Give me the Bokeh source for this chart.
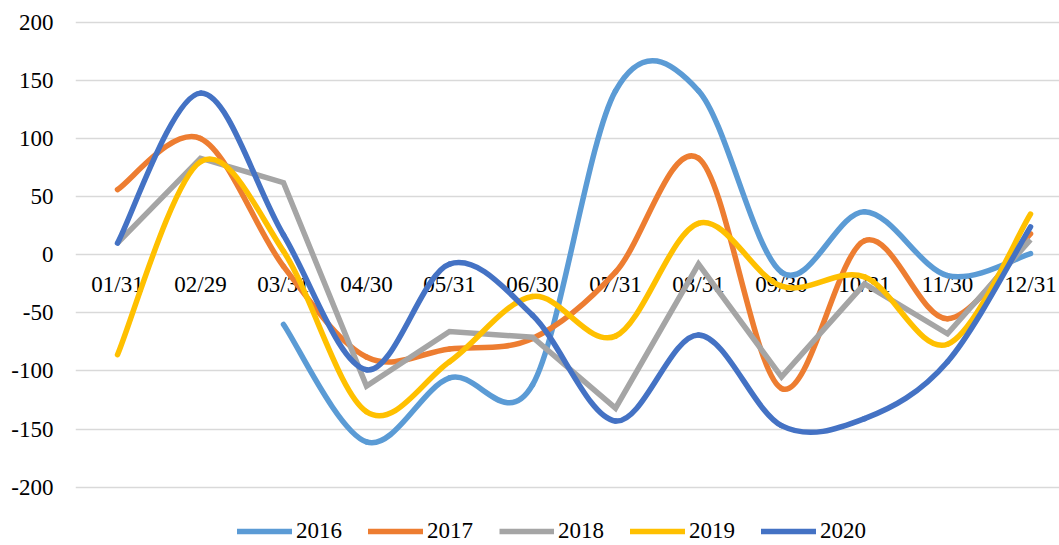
from bokeh.plotting import figure
from bokeh.models import (Range1d, FixedTicker, Legend, LegendItem, ColumnDataSource)
from bokeh.core.properties import value
from bokeh.embed import file_html
from bokeh.resources import INLINE

dates = ["01/31", "02/29", "03/31", "04/30", "05/31", "06/30",
         "07/31", "08/31", "09/30", "10/31", "11/30", "12/31"]

s2016 = [None, None, -60, -161, -106, -112, 141, 141, -15, 37, -18, 1]
s2017 = [56, 100, -10, -88, -81, -72, -15, 83, -115, 12, -55, 18]
s2018 = [10, 83, 62, -113, -66, -71, -132, -8, -105, -25, -68, 13]
s2019 = [-86, 80, 3, -135, -92, -36, -70, 27, -27, -19, -77, 35]
s2020 = [10, 139, 17, -99, -8, -52, -143, -69, -147, -141, -92, 24]

years = ["2016", "2017", "2018", "2019", "2020"]
colors = ["#5B9BD5", "#ED7D31", "#A5A5A5", "#FFC000", "#4472C4"]
smooth = [True, True, False, True, True]
series = [s2016, s2017, s2018, s2019, s2020]
y_ticks = [-200, -150, -100, -50, 0, 50, 100, 150, 200]
y_tick_labels = ["-200", "-150", "-100", "-50", "0", "50", "100", "150", "200"]

FONT = "'Liberation Serif', 'Times New Roman', serif"

p = figure(width=1059, height=545, output_backend="svg", toolbar_location=None,
           x_range=Range1d(-0.506, 11.349), y_range=Range1d(-250.1, 218.67),
           min_border_left=75, min_border_right=0, min_border_top=0, min_border_bottom=0)
p.outline_line_color = None
p.background_fill_color = "white"
p.border_fill_color = "white"
p.xaxis.visible = False
p.xgrid.visible = False

p.yaxis.ticker = FixedTicker(ticks=y_ticks)
p.yaxis.major_label_overrides = {t: s for t, s in zip(y_ticks, y_tick_labels)}
p.yaxis.axis_line_color = None
p.yaxis.major_tick_line_color = None
p.yaxis.minor_tick_line_color = None
p.yaxis.major_tick_out = 0
p.yaxis.major_tick_in = 0
p.yaxis.major_label_standoff = 22
p.yaxis.major_label_text_font = FONT
p.yaxis.major_label_text_font_size = "23px"
p.yaxis.major_label_text_color = "#000000"
p.ygrid.ticker = FixedTicker(ticks=y_ticks)
p.ygrid.grid_line_color = "#D9D9D9"
p.ygrid.grid_line_width = 1.4

# category labels sitting under the zero line
lab_src = ColumnDataSource(dict(x=list(range(len(dates))), y=[0] * len(dates), t=dates))
p.text(x="x", y="y", text="t", source=lab_src, y_offset=30,
       text_align="center", text_baseline="middle",
       text_font=value(FONT), text_font_size="23px", text_color="#000000")

items = []
for yr, col, sm, data in zip(years, colors, smooth, series):
    pts = [(i, v) for i, v in enumerate(data) if v is not None]
    if sm:
        x0, y0, x1, y1, cx0, cy0, cx1, cy1 = [], [], [], [], [], [], [], []
        n = len(pts)
        for i in range(n - 1):
            pa = pts[i - 1] if i > 0 else pts[i]
            pb = pts[i]
            pc = pts[i + 1]
            pd = pts[i + 2] if i + 2 < n else pts[i + 1]
            x0.append(pb[0]); y0.append(pb[1])
            x1.append(pc[0]); y1.append(pc[1])
            cx0.append(pb[0] + (pc[0] - pa[0]) / 6.0)
            cy0.append(pb[1] + (pc[1] - pa[1]) / 6.0)
            cx1.append(pc[0] - (pd[0] - pb[0]) / 6.0)
            cy1.append(pc[1] - (pd[1] - pb[1]) / 6.0)
        p.bezier(x0=x0, y0=y0, x1=x1, y1=y1, cx0=cx0, cy0=cy0, cx1=cx1, cy1=cy1,
                 line_color=col, line_width=5.5, line_cap="round")
        leg = p.line(x=[float("nan")], y=[float("nan")], line_color=col,
                     line_width=5.5, line_cap="round")
    else:
        leg = p.line(x=[q[0] for q in pts], y=[q[1] for q in pts], line_color=col,
                     line_width=5.5, line_join="miter", line_cap="butt")
    items.append(LegendItem(label=yr, renderers=[leg]))

legend = Legend(items=items, orientation="horizontal", location=(162, 1),
                glyph_width=55, glyph_height=22, label_height=22,
                label_standoff=4, spacing=26, padding=0, margin=0,
                border_line_color=None, background_fill_alpha=0,
                label_text_font=FONT, label_text_font_size="23px",
                label_text_color="#000000")
p.add_layout(legend, "center")

open("out.html", "w").write(file_html(p, INLINE))
